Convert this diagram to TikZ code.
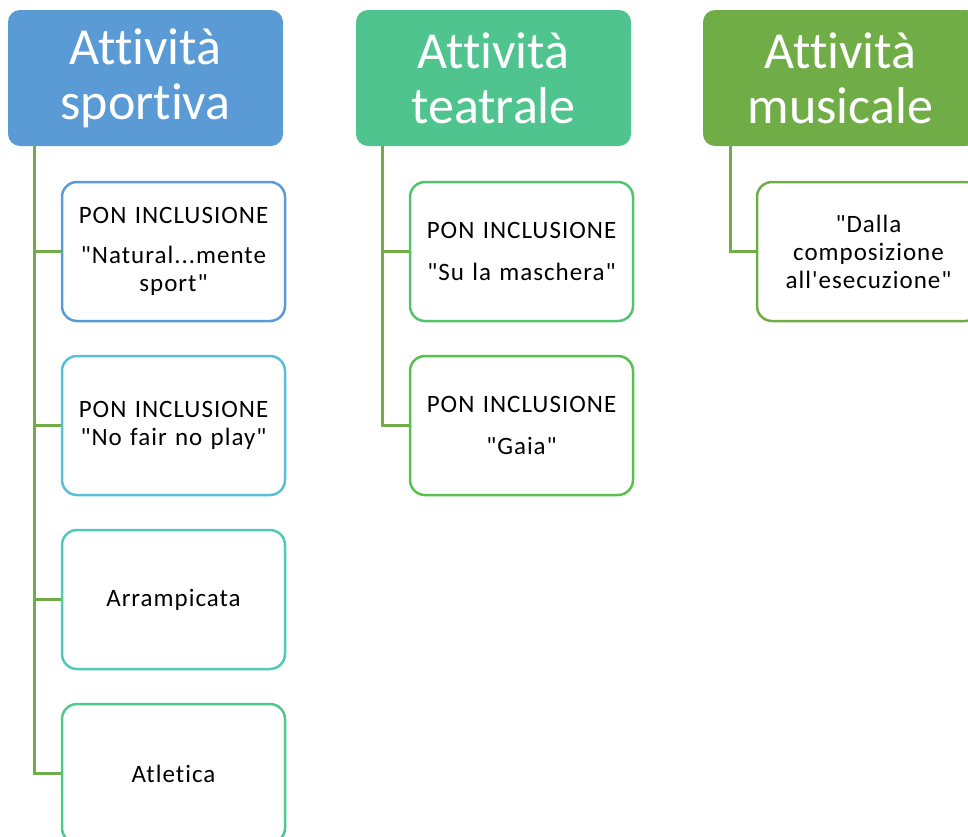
\documentclass[tikz,border=0pt]{standalone}
\usepackage{fontspec}
\setmainfont{Carlito}[Ligatures={TeXOff,CommonOff}]
\newfontfamily\boxfont{Carlito}[Ligatures={TeXOff,CommonOff}, LetterSpace=4]

\definecolor{sportBlue}{HTML}{5B9BD5}
\definecolor{teatroGreen}{HTML}{50C48E}
\definecolor{musicaGreen}{HTML}{70AD47}
\definecolor{boxCyan}{HTML}{57BFD7}
\definecolor{boxTeal}{HTML}{4FC9B8}
\definecolor{boxMint}{HTML}{4FC88E}
\definecolor{boxGreenA}{HTML}{52C46D}
\definecolor{boxGreenB}{HTML}{56C24C}

\begin{document}
\begin{tikzpicture}[x=1pt, y=-1pt,
    header/.style={rectangle, rounded corners=12pt, fill=#1, draw=none,
        minimum width=275pt, minimum height=136pt, inner sep=0pt,
        text=white, align=center, font=\fontsize{52}{55}\selectfont},
    activity/.style={rectangle, rounded corners=15pt, draw=#1, fill=white,
        line width=2.5pt, minimum width=223pt, minimum height=139pt,
        inner sep=0pt, text width=215pt, align=center,
        font=\boxfont\fontsize{25}{28}\selectfont},
    branch/.style={draw=musicaGreen, line width=3pt}]

    \useasboundingbox (0,0) rectangle (968,836);
    \clip (0,0) rectangle (968,836);

    % Define the positions of the headers
    \coordinate (head1Pos) at (145.5, 78);
    \coordinate (head2Pos) at (493.5, 78);
    \coordinate (head3Pos) at (840.5, 78);

    % Draw the headers
    \node[header=sportBlue] (sport) at (head1Pos) {Attività\\sportiva};
    \node[header=teatroGreen] (teatro) at (head2Pos) {Attività\\teatrale};
    \node[header=musicaGreen] (musica) at (head3Pos) {Attività\\musicale};

    % Start points of the branches
    \coordinate (sportRoot) at (34, 146);
    \coordinate (teatroRoot) at (382, 146);
    \coordinate (musicaRoot) at (730, 146);

    % Draw the activities
    \node[activity=sportBlue] (natural) at (173.5, 251.5)
        {PON INCLUSIONE\\[12pt]"Natural...mente\\sport"};
    \node[activity=boxCyan] (fairplay) at (173.5, 425.5)
        {PON INCLUSIONE\\"No fair no play"};
    \node[activity=boxTeal] (arrampicata) at (173.5, 599.5) {Arrampicata};
    \node[activity=boxMint] (atletica) at (173.5, 773.5) {Atletica};

    \node[activity=boxGreenA] (maschera) at (521.5, 251.5)
        {PON INCLUSIONE\\[14pt]"Su la maschera"};
    \node[activity=boxGreenB] (gaia) at (521.5, 425.5)
        {PON INCLUSIONE\\[14pt]"Gaia"};

    \node[activity=musicaGreen] (esecuzione) at (868.5, 251.5)
        {"Dalla\\composizione\\all'esecuzione"};

    % Connect the activities to the branches
    \draw[branch] (sportRoot) |- (natural.west);
    \draw[branch] (sportRoot) |- (fairplay.west);
    \draw[branch] (sportRoot) |- (arrampicata.west);
    \draw[branch] (sportRoot) |- (atletica.west);
    \draw[branch] (teatroRoot) |- (maschera.west);
    \draw[branch] (teatroRoot) |- (gaia.west);
    \draw[branch] (musicaRoot) |- (esecuzione.west);

\end{tikzpicture}
\end{document}
